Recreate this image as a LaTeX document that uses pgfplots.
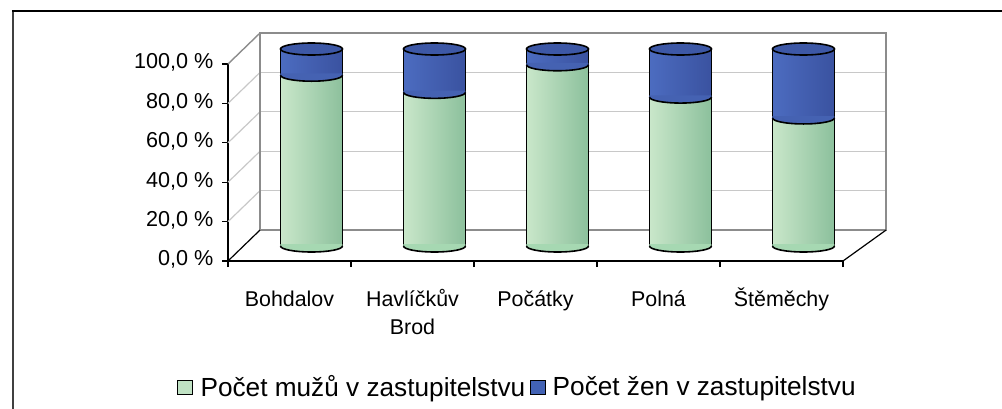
\documentclass[border=0pt]{standalone}
\usepackage{fontspec}
\setmainfont{Liberation Sans}
\usepackage{pgfplots}
\pgfplotsset{compat=1.18}

\definecolor{gL}{HTML}{CAE7CA}
\definecolor{gM}{HTML}{A6D8B2}
\definecolor{gR}{HTML}{8CC09C}
\definecolor{bL}{HTML}{4C6CC0}
\definecolor{bM}{HTML}{4562B2}
\definecolor{bR}{HTML}{3A52A0}
\definecolor{bTop}{HTML}{3D58A6}
\definecolor{legG}{HTML}{C0E2C4}
\definecolor{legB}{HTML}{4262B4}
\definecolor{gridc}{HTML}{C8C8C8}
\definecolor{wallc}{HTML}{8C8C8C}

\pgfdeclareplotmark{cylhalf}{%
  \pgfpathmoveto{\pgfpoint{-15.5pt}{0.9pt}}%
  \pgfpathlineto{\pgfpoint{-15.5pt}{0pt}}%
  \pgfpatharc{180}{360}{15.5pt and 3pt}%
  \pgfpathlineto{\pgfpoint{15.5pt}{0.9pt}}%
  \pgfpathclose
  \pgfusepathqfill
  \pgfpathmoveto{\pgfpoint{-15.5pt}{0pt}}%
  \pgfpatharc{180}{360}{15.5pt and 3pt}%
  \pgfusepathqstroke
}
\pgfdeclareplotmark{cyltop}{%
  \pgfpathellipse{\pgfpointorigin}{\pgfpoint{15.5pt}{0pt}}{\pgfpoint{0pt}{3pt}}%
  \pgfusepathqfillstroke
}
\pgfplotsset{
  bbar/.style={ybar, bar width=31pt, bar shift=0pt, draw=black, line width=0.8pt,
    left color=bL, middle color=bM, right color=bR, mark=none},
  gbar/.style={ybar, bar width=31pt, bar shift=0pt, draw=black, line width=0.8pt,
    left color=gL, middle color=gM, right color=gR, mark=none},
}

\begin{document}
\begin{tikzpicture}
\useasboundingbox (-114pt,-73.5pt) rectangle (387pt,130.5pt);
\draw[line width=1pt, black!75] (-107.5pt,-80pt) -- (-107.5pt,125pt);
\draw[line width=0.6pt] (-108pt,125pt) -- (400pt,125pt);

\begin{axis}[
  at={(0pt,0pt)}, anchor=south west,
  scale only axis, width=307.5pt, height=98.5pt,
  xmin=-0.5, xmax=4.5, ymin=0, ymax=100,
  clip=false,
  axis x line*=bottom, axis y line*=left,
  axis line style={black, line width=0.6pt, -},
  tick align=outside,
  major tick length=2.75pt, minor tick length=3pt,
  xtick={0,1,2,3,4},
  xticklabels={Bohdalov,{Havlíčkův\\Brod},Počátky,Polná,Štěměchy},
  typeset ticklabels with strut,
  xticklabel style={align=center, font=\fontsize{10.7}{14}\selectfont, yshift=-6.5pt},
  major x tick style={draw=none},
  minor xtick={-0.5,0.5,1.5,2.5,3.5,4.5},
  minor x tick style={black, line width=0.6pt},
  ytick={0,20,40,60,80,100},
  yticklabels={{0,0 \%},{20,0 \%},{40,0 \%},{60,0 \%},{80,0 \%},{100,0 \%}},
  yticklabel style={font=\fontsize{10.8}{12}\selectfont, xshift=-1pt},
  major y tick style={black, line width=0.6pt},
  legend columns=2,
  legend style={at={(0.469,-0.642)}, anchor=center, draw=none, fill=none,
    font=\fontsize{13.1}{15}\selectfont, inner sep=0pt,
    nodes={inner sep=0pt},
    /tikz/every even column/.append style={column sep=2.5pt}},
]
% back wall and side walls
\draw[gridc, line width=0.6pt] (axis cs:-0.24,35.7) -- (axis cs:4.85,35.7);
\draw[gridc, line width=0.6pt] (axis cs:-0.24,55.7) -- (axis cs:4.85,55.7);
\draw[gridc, line width=0.6pt] (axis cs:-0.24,75.7) -- (axis cs:4.85,75.7);
\draw[gridc, line width=0.6pt] (axis cs:-0.24,95.7) -- (axis cs:4.85,95.7);
\draw[gridc, line width=0.6pt] (axis cs:-0.5,20) -- (axis cs:-0.24,35.7);
\draw[gridc, line width=0.6pt] (axis cs:-0.5,40) -- (axis cs:-0.24,55.7);
\draw[gridc, line width=0.6pt] (axis cs:-0.5,60) -- (axis cs:-0.24,75.7);
\draw[gridc, line width=0.6pt] (axis cs:-0.5,80) -- (axis cs:-0.24,95.7);
\draw[wallc, line width=0.7pt] (axis cs:-0.5,100) -- (axis cs:-0.24,115.7);
\draw[wallc, line width=0.7pt] (axis cs:-0.24,15.7) rectangle (axis cs:4.85,115.7);
\draw[black, line width=0.6pt] (axis cs:-0.5,0) -- (axis cs:-0.24,15.7);
\draw[black, line width=0.6pt] (axis cs:4.5,0) -- (axis cs:4.85,15.7);

\addlegendimage{legend image code/.code={\draw[fill=legG, draw=black, line width=0.5pt] (0pt,-3.6pt) rectangle (7.2pt,3.6pt);}}
\addlegendentry{\hspace{4pt}Počet mužů v zastupitelstvu}
\addlegendimage{legend image code/.code={\draw[fill=legB, draw=black, line width=0.5pt] (0pt,-3.6pt) rectangle (7.2pt,3.6pt);}}
\addlegendentry{\hspace{3.5pt}Počet žen v zastupitelstvu}
\end{axis}

\begin{axis}[
  at={(11pt,7.5pt)}, anchor=south west,
  scale only axis, width=307.5pt, height=98.5pt,
  xmin=-0.5, xmax=4.5, ymin=0, ymax=100,
  clip=false, hide axis,
]
\addplot[bbar] coordinates {(0,100)};
\addplot[bbar] coordinates {(1,100)};
\addplot[bbar] coordinates {(2,100)};
\addplot[bbar] coordinates {(3,100)};
\addplot[bbar] coordinates {(4,100)};
\addplot[gbar] coordinates {(0,86.7)};
\addplot[gbar] coordinates {(1,78)};
\addplot[gbar] coordinates {(2,92)};
\addplot[gbar] coordinates {(3,75.6)};
\addplot[gbar] coordinates {(4,65)};
\addplot[only marks, mark=cylhalf, mark options={fill=gM, draw=black, line width=0.8pt}]
  coordinates {(0,0) (1,0) (2,0) (3,0) (4,0)};
\addplot[only marks, mark=cylhalf, mark options={fill=bM, draw=black, line width=0.8pt}]
  coordinates {(0,86.7) (1,78) (2,92) (3,75.6) (4,65)};
\addplot[only marks, mark=cyltop, mark options={fill=bTop, draw=black, line width=0.8pt}]
  coordinates {(0,100) (1,100) (2,100) (3,100) (4,100)};
\end{axis}
\end{tikzpicture}
\end{document}
